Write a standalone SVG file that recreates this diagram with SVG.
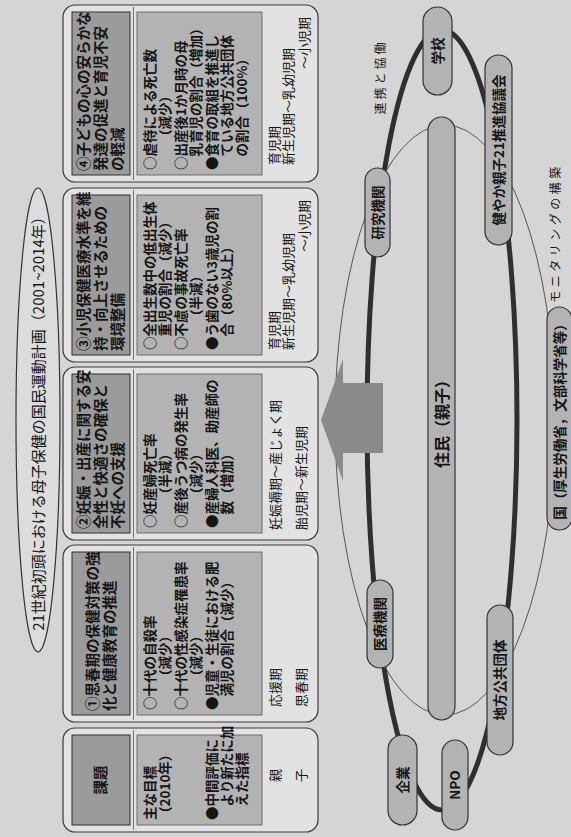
<svg xmlns="http://www.w3.org/2000/svg" width="571" height="837" viewBox="0 0 571 837">
<style>
.t{font-family:"Noto Sans CJK JP","Noto Sans CJK SC",sans-serif;fill:#151515}
.hd{font-size:14.5px;font-weight:700}
.bd{font-size:13.5px;font-weight:700}
.pd{font-size:13px}
.nd{font-size:13.5px;font-weight:700;text-anchor:middle}
.lb{font-size:12px;text-anchor:middle}
.col{fill:#e2e2e2;stroke:#3a3a3a;stroke-width:1.2}
.hbox{fill:#9b9b9b;stroke:#2e2e2e;stroke-width:1}
.bbox{fill:#b3b3b3;stroke:#555;stroke-width:0.8}
.grid{stroke:#444;stroke-width:0.7}
.pill{fill:#b3b3b3;stroke:#333;stroke-width:1.2}
</style>
<rect width="571" height="837" fill="#d5d5d5"/>
<g transform="translate(0,837) rotate(-90)">
<g id="title"><ellipse cx="417" cy="38" rx="232" ry="22" fill="#dcdcdc" stroke="#333" stroke-width="1.2"/><text class="t" x="417" y="43.5" font-size="15" text-anchor="middle">21世紀初頭における母子保健の国民運動計画（2001~2014年）</text></g>

<g id="col0"><rect class="col" x="5" y="63" width="104" height="255" rx="12"/><rect class="hbox" x="12" y="72" width="90" height="58"/><rect class="bbox" x="12" y="137" width="90" height="125"/><line class="grid" x1="7" y1="133.5" x2="107" y2="133.5"/>
<text class="t hd" x="57" y="106" text-anchor="middle">課題</text>
<text class="t bd" x="17" y="155">主な目標</text><text class="t bd" x="17" y="170">（2010年）</text><text class="t bd" x="17" y="217">●中間評価に</text><text class="t bd" x="30.5" y="232">より新たに加</text><text class="t bd" x="30.5" y="247">えた指標</text>
<text class="t pd" x="55" y="280">親</text><text class="t pd" x="55" y="306">子</text></g>

<g id="col1"><rect class="col" x="115" y="63" width="177" height="255" rx="12"/><rect class="hbox" x="122" y="72" width="163" height="58"/><rect class="bbox" x="122" y="137" width="163" height="125"/><line class="grid" x1="117" y1="133.5" x2="290" y2="133.5"/>
<text class="t hd" x="126" y="97.5">①思春期の保健対策の強</text><text class="t hd" x="126" y="114.5">化と健康教育の推進</text>
<text class="t bd" x="127" y="155">○十代の自殺率</text><text class="t bd" x="154" y="170">（減少）</text><text class="t bd" x="127" y="186">○十代の性感染症罹患率</text><text class="t bd" x="154" y="201">（減少）</text><text class="t bd" x="127" y="217">●児童・生徒における肥</text><text class="t bd" x="140.5" y="232">満児の割合（減少）</text>
<text class="t pd" x="130" y="280">応援期</text><text class="t pd" x="130" y="306">思春期</text></g>

<g id="col2"><rect class="col" x="297" y="63" width="173" height="255" rx="12"/><rect class="hbox" x="304" y="72" width="159" height="58"/><rect class="bbox" x="304" y="137" width="159" height="125"/><line class="grid" x1="299" y1="133.5" x2="468" y2="133.5"/>
<text class="t hd" x="308" y="89">②妊娠・出産に関する安</text><text class="t hd" x="308" y="106">全性と快適さの確保と</text><text class="t hd" x="308" y="123">不妊への支援</text>
<text class="t bd" x="309" y="155">○妊産婦死亡率</text><text class="t bd" x="336" y="170">（半減）</text><text class="t bd" x="309" y="186">○産後うつ病の発生率</text><text class="t bd" x="336" y="201">（減少）</text><text class="t bd" x="309" y="217">●産婦人科医、助産師の</text><text class="t bd" x="322.5" y="232">数（増加）</text>
<text class="t pd" x="307" y="280">妊娠褥期～産じょく期</text><text class="t pd" x="307" y="306">胎児期～新生児期</text></g>

<g id="col3"><rect class="col" x="475" y="63" width="174" height="255" rx="12"/><rect class="hbox" x="482" y="72" width="160" height="58"/><rect class="bbox" x="482" y="137" width="160" height="125"/><line class="grid" x1="477" y1="133.5" x2="647" y2="133.5"/>
<text class="t hd" x="486" y="89">③小児保健医療水準を維</text><text class="t hd" x="486" y="106">持・向上させるための</text><text class="t hd" x="486" y="123">環境整備</text>
<text class="t bd" x="487" y="155">○全出生数中の低出生体</text><text class="t bd" x="500.5" y="170">重児の割合（減少）</text><text class="t bd" x="487" y="186">○不慮の事故死亡率</text><text class="t bd" x="514" y="201">（半減）</text><text class="t bd" x="487" y="217">●う歯のない3歳児の割</text><text class="t bd" x="500.5" y="232">合（80%以上）</text>
<text class="t pd" x="487" y="279">育児期</text><text class="t pd" x="487" y="293">新生児期～乳幼児期</text><text class="t pd" x="637" y="309" text-anchor="end">～小児期</text></g>

<g id="col4"><rect class="col" x="655" y="63" width="177" height="255" rx="12"/><rect class="hbox" x="662" y="72" width="163" height="58"/><rect class="bbox" x="662" y="137" width="163" height="125"/><line class="grid" x1="657" y1="133.5" x2="830" y2="133.5"/>
<text class="t hd" x="666" y="89">④子どもの心の安らかな</text><text class="t hd" x="666" y="106">発達の促進と育児不安</text><text class="t hd" x="666" y="123">の軽減</text>
<text class="t bd" x="667" y="155">○虐待による死亡数</text><text class="t bd" x="694" y="170">（減少）</text><text class="t bd" x="667" y="186">○出産後1か月時の母</text><text class="t bd" x="680.5" y="201">乳育児の割合（増加）</text><text class="t bd" x="667" y="217">●食育の取組を推進し</text><text class="t bd" x="680.5" y="232">ている地方公共団体</text><text class="t bd" x="680.5" y="247">の割合（100%）</text>
<text class="t pd" x="672" y="279">育児期</text><text class="t pd" x="672" y="293">新生児期～乳幼児期</text><text class="t pd" x="820" y="309" text-anchor="end">～小児期</text></g>

<g id="connectors">
<ellipse cx="417" cy="442" rx="390" ry="75" fill="none" stroke="#2f2f2f" stroke-width="5"/>
<ellipse cx="417" cy="445" rx="295" ry="110" fill="none" stroke="#555" stroke-width="1"/>
</g>
<g id="arrow"><polygon points="384,383 384,343 356,343 417,321 478,343 454,343 454,383" fill="#8a8a8a"/></g>

<g id="school"><rect class="pill" x="742" y="423" width="88" height="29" rx="14.5"/><text class="t nd" x="786" y="442.5">学校</text></g>
<g id="kyogikai"><rect class="pill" x="592" y="485" width="190" height="27" rx="13.5"/><text class="t nd" x="687" y="503.5">健やか親子21推進協議会</text></g>
<g id="jumin"><rect class="pill" x="117" y="428" width="603" height="27" rx="13.5"/><text class="t" x="417" y="447.5" font-size="16" font-weight="700" text-anchor="middle">住民（親子）</text></g>
<g id="kenkyu"><rect class="pill" x="580" y="365" width="89" height="25" rx="12.5"/><text class="t nd" x="624.5" y="382.5">研究機関</text></g>
<g id="iryo"><rect class="pill" x="169" y="367" width="88" height="26" rx="13"/><text class="t nd" x="213" y="385">医療機関</text></g>
<g id="kigyo"><rect class="pill" x="12" y="388" width="90" height="29" rx="14.5"/><text class="t nd" x="57" y="407.5">企業</text></g>
<g id="npo"><rect class="pill" x="7" y="442" width="90" height="26" rx="13"/><text class="t nd" x="52" y="460">NPO</text></g>
<g id="chiho"><rect class="pill" x="82" y="487" width="150" height="26" rx="13"/><text class="t nd" x="157" y="505">地方公共団体</text></g>
<g id="kuni"><rect class="pill" x="307" y="547" width="223" height="25" rx="12.5"/><text class="t nd" x="418.5" y="564.5">国（厚生労働省，文部科学省等）</text></g>

<g id="labels">
<text class="t lb" x="760" y="385" letter-spacing="3">連携と協働</text>
<text class="t lb" x="604" y="560" letter-spacing="3.5">モニタリングの構築</text>
</g>
</g>
</svg>
